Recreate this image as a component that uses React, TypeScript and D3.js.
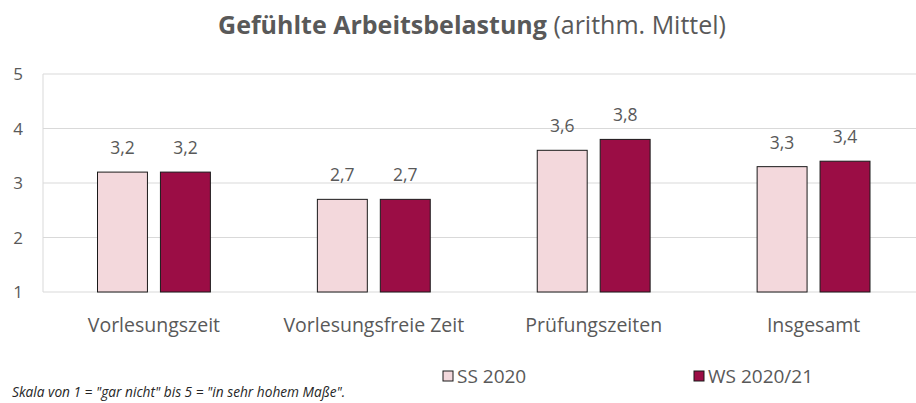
import React from "react";
import * as d3 from "d3";

const categories = ["Vorlesungszeit", "Vorlesungsfreie Zeit", "Prüfungszeiten", "Insgesamt"];
const seriesNames = ["SS 2020", "WS 2020/21"];
const ss2020 = [3.2, 2.7, 3.6, 3.3];
const ws2021 = [3.2, 2.7, 3.8, 3.4];
const yTicks = [1, 2, 3, 4, 5];
const colors = ["#F3D8DC", "#9B0D45"];

const W = 916;
const H = 403;
const FONT = "'Open Sans', sans-serif";
const TXT = "#595959";

export default function App() {
  const x0 = d3.scaleBand<string>().domain(categories).range([44, 923.5]).padding(0);
  const x1 = d3
    .scaleBand<string>()
    .domain(seriesNames)
    .range([53.5, x0.bandwidth() - 53.5])
    .paddingInner(13 / 63)
    .paddingOuter(0);
  const y = d3.scaleLinear().domain([1, 5]).range([292, 74]);
  const series = [ss2020, ws2021];
  const fmt = (v: number) => v.toFixed(1).replace(".", ",");

  return (
    <svg width={W} height={H} style={{ position: "absolute", left: 0, top: 0, background: "#fff" }}>
      <text x={472} y={34} textAnchor="middle" fontFamily={FONT} fontSize={25} fill={TXT}>
        <tspan fontWeight="bold">Gefühlte Arbeitsbelastung</tspan>
        <tspan> (arithm. Mittel)</tspan>
      </text>
      {yTicks.map((t) => (
        <g key={t}>
          <line x1={43} x2={W} y1={y(t)} y2={y(t)} stroke="#D9D9D9" strokeWidth={1} />
          <text x={23} y={y(t)} dy="0.36em" textAnchor="end" fontFamily={FONT} fontSize={17} fill={TXT}>
            {t}
          </text>
        </g>
      ))}
      <line x1={43} x2={43} y1={y(5)} y2={y(1)} stroke="#D9D9D9" strokeWidth={1} />
      {categories.map((c, i) => (
        <g key={c} transform={`translate(${x0(c)},0)`}>
          {seriesNames.map((s, j) => {
            const v = series[j][i];
            const bx = x1(s)!;
            return (
              <g key={s}>
                <rect
                  x={bx}
                  y={y(v)}
                  width={x1.bandwidth()}
                  height={y(1) - y(v)}
                  fill={colors[j]}
                  stroke="#1a1a1a"
                  strokeWidth={1}
                />
                <text
                  x={bx + x1.bandwidth() / 2}
                  y={y(v) - 18}
                  textAnchor="middle"
                  fontFamily={FONT}
                  fontSize={17.5}
                  fill={TXT}
                >
                  {fmt(v)}
                </text>
              </g>
            );
          })}
          <text
            x={x0.bandwidth() / 2}
            y={332}
            textAnchor="middle"
            fontFamily={FONT}
            fontSize={19.5}
            fill={TXT}
          >
            {c}
          </text>
        </g>
      ))}
      {seriesNames.map((s, j) => {
        const lx = [443, 694][j];
        return (
          <g key={s}>
            <rect x={lx} y={371} width={10} height={10} fill={colors[j]} stroke="#1a1a1a" strokeWidth={1} />
            <text x={lx + 14} y={383} fontFamily={FONT} fontSize={19} fill={TXT}>
              {s}
            </text>
          </g>
        );
      })}
      <text x={12} y={397} fontFamily={FONT} fontSize={13.7} fontStyle="italic" fill="#262626">
        Skala von 1 = "gar nicht" bis 5 = "in sehr hohem Maße".
      </text>
    </svg>
  );
}
